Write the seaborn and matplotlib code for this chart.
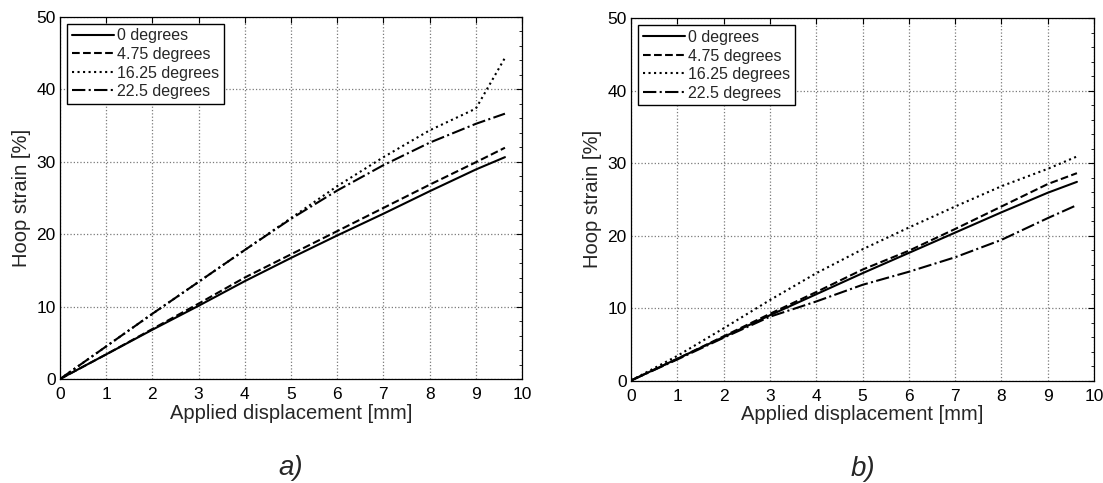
import numpy as np
import pandas as pd
import matplotlib
matplotlib.use("Agg")
import matplotlib.pyplot as plt
from matplotlib.ticker import MultipleLocator
import seaborn as sns

# Applied displacement [mm] at which hoop strain was sampled
disp = [0, 1, 2, 3, 4, 5, 6, 7, 8, 9, 9.63]

series_labels = ["0 degrees", "4.75 degrees", "16.25 degrees", "22.5 degrees"]
line_styles = ["-", "--", ":", "-."]

# Panel a) hoop strain [%]
a_0 = [0, 3.4, 6.8, 10.1, 13.5, 16.7, 19.8, 22.8, 25.9, 28.9, 30.6]
a_475 = [0, 3.4, 6.9, 10.4, 14.0, 17.2, 20.4, 23.6, 26.8, 29.9, 31.9]
a_1625 = [0, 4.5, 9.0, 13.4, 17.8, 22.2, 26.6, 30.6, 34.3, 37.3, 44.3]
a_225 = [0, 4.5, 9.0, 13.4, 17.8, 22.1, 26.0, 29.5, 32.6, 35.2, 36.6]

# Panel b) hoop strain [%]
b_0 = [0, 3.0, 6.0, 9.0, 11.9, 14.8, 17.6, 20.4, 23.2, 25.9, 27.4]
b_475 = [0, 3.0, 6.1, 9.2, 12.2, 15.3, 17.9, 20.9, 24.0, 27.1, 28.6]
b_1625 = [0, 3.4, 7.2, 11.1, 14.8, 18.1, 21.1, 24.0, 26.8, 29.2, 30.9]
b_225 = [0, 2.9, 5.9, 8.8, 10.9, 13.2, 15.0, 17.0, 19.4, 22.4, 24.2]

x_ticks = list(range(0, 11))
y_ticks = [0, 10, 20, 30, 40, 50]
panel_tags = ["a)", "b)"]

sns.set_style("white")
plt.rcParams["font.family"] = ["Liberation Sans", "DejaVu Sans"]
plt.rcParams["mathtext.default"] = "regular"

fig = plt.figure(figsize=(11.03, 4.83), dpi=100)
ax_a = fig.add_axes([0.0544, 0.2153, 0.4189, 0.7505])
ax_b = fig.add_axes([0.5721, 0.2122, 0.4198, 0.7505])

panels = [
    (ax_a, [a_0, a_475, a_1625, a_225]),
    (ax_b, [b_0, b_475, b_1625, b_225]),
]

for (ax, curves), tag in zip(panels, panel_tags):
    for vals, lab, ls in zip(curves, series_labels, line_styles):
        df = pd.DataFrame({"disp": disp, "strain": vals})
        sns.lineplot(data=df, x="disp", y="strain", ax=ax, color="black",
                     linestyle=ls, linewidth=1.5, label=lab, sort=False)

    ax.set_xlim(0, 10)
    ax.set_ylim(0, 50)
    ax.set_xticks(x_ticks)
    ax.set_yticks(y_ticks)
    ax.yaxis.set_minor_locator(MultipleLocator(2))
    ax.tick_params(axis="both", which="both", direction="in",
                   top=True, right=True, labelsize=12.5, colors="black")
    ax.tick_params(axis="x", which="major", pad=6)
    ax.tick_params(axis="y", which="major", pad=3)
    ax.tick_params(axis="both", which="major", length=4, width=0.8)
    ax.tick_params(axis="y", which="minor", length=2, width=0.6)
    ax.grid(True, which="major", color="#7a7a7a", linestyle=":", linewidth=0.9)
    for sp in ax.spines.values():
        sp.set_visible(True)
        sp.set_color("black")
        sp.set_linewidth(0.9)

    ax.set_xlabel("Applied displacement [mm]", fontsize=14.5, labelpad=1)
    ax.set_ylabel("Hoop strain [%]", fontsize=14.5, labelpad=4)

    leg = ax.legend(loc="upper left", fontsize=11.5, frameon=True, fancybox=False,
                    framealpha=1, edgecolor="black", handlelength=2.6,
                    handletextpad=0.2, borderaxespad=0.45, labelspacing=0.22,
                    borderpad=0.3)
    leg.get_frame().set_linewidth(1.0)

    ax.text(0.5, -0.245, tag, transform=ax.transAxes, ha="center", va="center",
            fontsize=20, fontstyle="italic")

fig.savefig("out.png", dpi=100)
